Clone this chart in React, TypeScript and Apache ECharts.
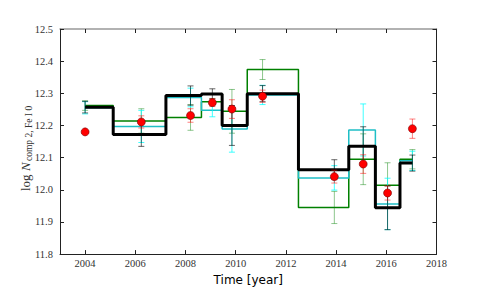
import React, { useEffect, useRef } from "react";
import * as echarts from "echarts";

// Observation epochs (years)
const times = [2004.0, 2006.24, 2008.2, 2009.07, 2009.85, 2011.07, 2013.93, 2015.08, 2016.05, 2017.04];
// Observed values (red points) and their errors
const observed = [12.18, 12.211, 12.231, 12.271, 12.251, 12.291, 12.041, 12.08, 11.99, 12.19];
const observedErr = [0.0, 0.019, 0.021, 0.012, 0.029, 0.019, 0.02, 0.029, 0.022, 0.03];
// Model curves (steps) and errors
const modelBlack = [12.257, 12.172, 12.293, 12.298, 12.2, 12.299, 12.0625, 12.135, 11.944, 12.083];
const blackErr = [0.018, 0.037, 0.03, 0.016, 0.062, 0.025, 0.031, 0.061, 0.068, 0.025];
const modelGreen = [12.262, 12.214, 12.225, 12.274, 12.244, 12.374, 11.945, 12.095, 12.014, 12.095];
const greenErr = [0.015, 0.038, 0.04, 0.01, 0.068, 0.031, 0.05, 0.079, 0.07, 0.03];
const modelCyan = [12.255, 12.197, 12.287, 12.247, 12.189, 12.295, 12.037, 12.186, 11.956, 12.09];
const cyanErr = [0.019, 0.05, 0.029, 0.02, 0.072, 0.03, 0.038, 0.081, 0.08, 0.03];
// Tick values
const xTicks = [2004, 2006, 2008, 2010, 2012, 2014, 2016, 2018];

const pairs = (vals: number[]) => times.map((t, i) => [t, vals[i]]);
const errData = (vals: number[], errs: number[]) =>
  times
    .map((t, i) => [t, vals[i] - errs[i], vals[i] + errs[i]])
    .filter((d, i) => errs[i] > 0);

const errSeries = (data: number[][], color: string, cap: number, z: number) => ({
  type: "custom",
  z,
  silent: true,
  data,
  renderItem: (params: any, api: any) => {
    const x = api.value(0);
    const lo = api.coord([x, api.value(1)]);
    const hi = api.coord([x, api.value(2)]);
    const st = { stroke: color, lineWidth: 1 };
    return {
      type: "group",
      children: [
        { type: "line", shape: { x1: lo[0], y1: lo[1], x2: hi[0], y2: hi[1] }, style: st },
        { type: "line", shape: { x1: lo[0] - cap, y1: lo[1], x2: lo[0] + cap, y2: lo[1] }, style: st },
        { type: "line", shape: { x1: hi[0] - cap, y1: hi[1], x2: hi[0] + cap, y2: hi[1] }, style: st },
      ],
    };
  },
});

const serif = "'Liberation Serif', 'DejaVu Serif', serif";

export default function App() {
  const ref = useRef<HTMLDivElement>(null);
  useEffect(() => {
    if (!ref.current) return;
    const chart = echarts.init(ref.current, undefined, { renderer: "svg" });
    const tickStyle = { show: true, inside: true, length: 4, lineStyle: { color: "#222", width: 1 } };
    const baseX = {
      type: "value",
      min: 2003,
      max: 2018,
      splitLine: { show: false },
    };
    const baseY = {
      type: "value",
      min: 11.8,
      max: 12.5,
      interval: 0.1,
      splitLine: { show: false },
    };
    chart.setOption({
      animation: false,
      grid: { left: 60, right: 48.5, top: 29, bottom: 29 },
      xAxis: [
        {
          ...baseX,
          position: "bottom",
          axisLine: { lineStyle: { color: "#222", width: 1 } },
          axisTick: { ...tickStyle, customValues: xTicks },
          axisLabel: {
            customValues: xTicks,
            fontFamily: serif,
            fontSize: 10.5,
            color: "#333",
            margin: 4,
            formatter: (v: number) => String(Math.round(v)),
          },
          name: "Time [year]",
          nameLocation: "middle",
          nameGap: 16,
          nameTextStyle: { fontFamily: "'DejaVu Sans', sans-serif", fontSize: 12, color: "#000", verticalAlign: "top" },
        },
        {
          ...baseX,
          position: "top",
          axisLine: { lineStyle: { color: "#999", width: 1.5 } },
          axisTick: { ...tickStyle, customValues: xTicks },
          axisLabel: { show: false },
        },
      ],
      yAxis: [
        {
          ...baseY,
          position: "left",
          axisLine: { show: true, lineStyle: { color: "#222", width: 1 } },
          axisTick: tickStyle,
          axisLabel: {
            fontFamily: serif,
            fontSize: 10.5,
            color: "#333",
            margin: 7,
            formatter: (v: number) => v.toFixed(1),
          },
        },
        {
          ...baseY,
          position: "right",
          axisLine: { show: true, lineStyle: { color: "#222", width: 1 } },
          axisTick: tickStyle,
          axisLabel: { show: false },
        },
      ],
      graphic: [
        {
          type: "group",
          x: 25,
          y: 147,
          rotation: Math.PI / 2,
          children: [
            {
              type: "text",
              x: -44,
              y: 0,
              style: { text: "log", font: `13px ${serif}`, fill: "#333", verticalAlign: "middle" },
            },
            {
              type: "text",
              x: -24,
              y: 0,
              style: { text: "N", font: `italic 13px ${serif}`, fill: "#333", verticalAlign: "middle" },
            },
            {
              type: "text",
              x: -14,
              y: 4,
              style: { text: "comp 2, Fe I 0", font: `9.5px ${serif}`, fill: "#333", verticalAlign: "middle" },
            },
          ],
        },
      ],
      series: [
        {
          type: "line",
          step: "middle",
          data: pairs(modelGreen),
          showSymbol: false,
          lineStyle: { color: "#008000", width: 1.5 },
          z: 2,
        },
        errSeries(errData(modelGreen, greenErr), "rgba(0,128,0,0.45)", 3, 3),
        {
          type: "line",
          step: "middle",
          data: pairs(modelCyan),
          showSymbol: false,
          lineStyle: { color: "#1fbfc6", width: 1.5 },
          z: 4,
        },
        errSeries(errData(modelCyan, cyanErr), "rgba(0,255,255,0.75)", 3, 5),
        {
          type: "line",
          step: "middle",
          data: pairs(modelBlack),
          showSymbol: false,
          lineStyle: { color: "#000", width: 3 },
          z: 6,
        },
        errSeries(errData(modelBlack, blackErr), "rgba(0,0,0,0.6)", 3, 7),
        errSeries(errData(observed, observedErr), "rgba(255,0,0,0.5)", 3, 8),
        {
          type: "scatter",
          data: pairs(observed),
          symbol: "circle",
          symbolSize: 8,
          itemStyle: { color: "#ff0000", borderColor: "#7a0000", borderWidth: 0.6, opacity: 1 },
          z: 9,
        },
      ],
    });
    return () => chart.dispose();
  }, []);
  return (
    <div
      ref={ref}
      style={{ position: "fixed", left: 0, top: 0, width: 485, height: 291, background: "#fff" }}
    />
  );
}
